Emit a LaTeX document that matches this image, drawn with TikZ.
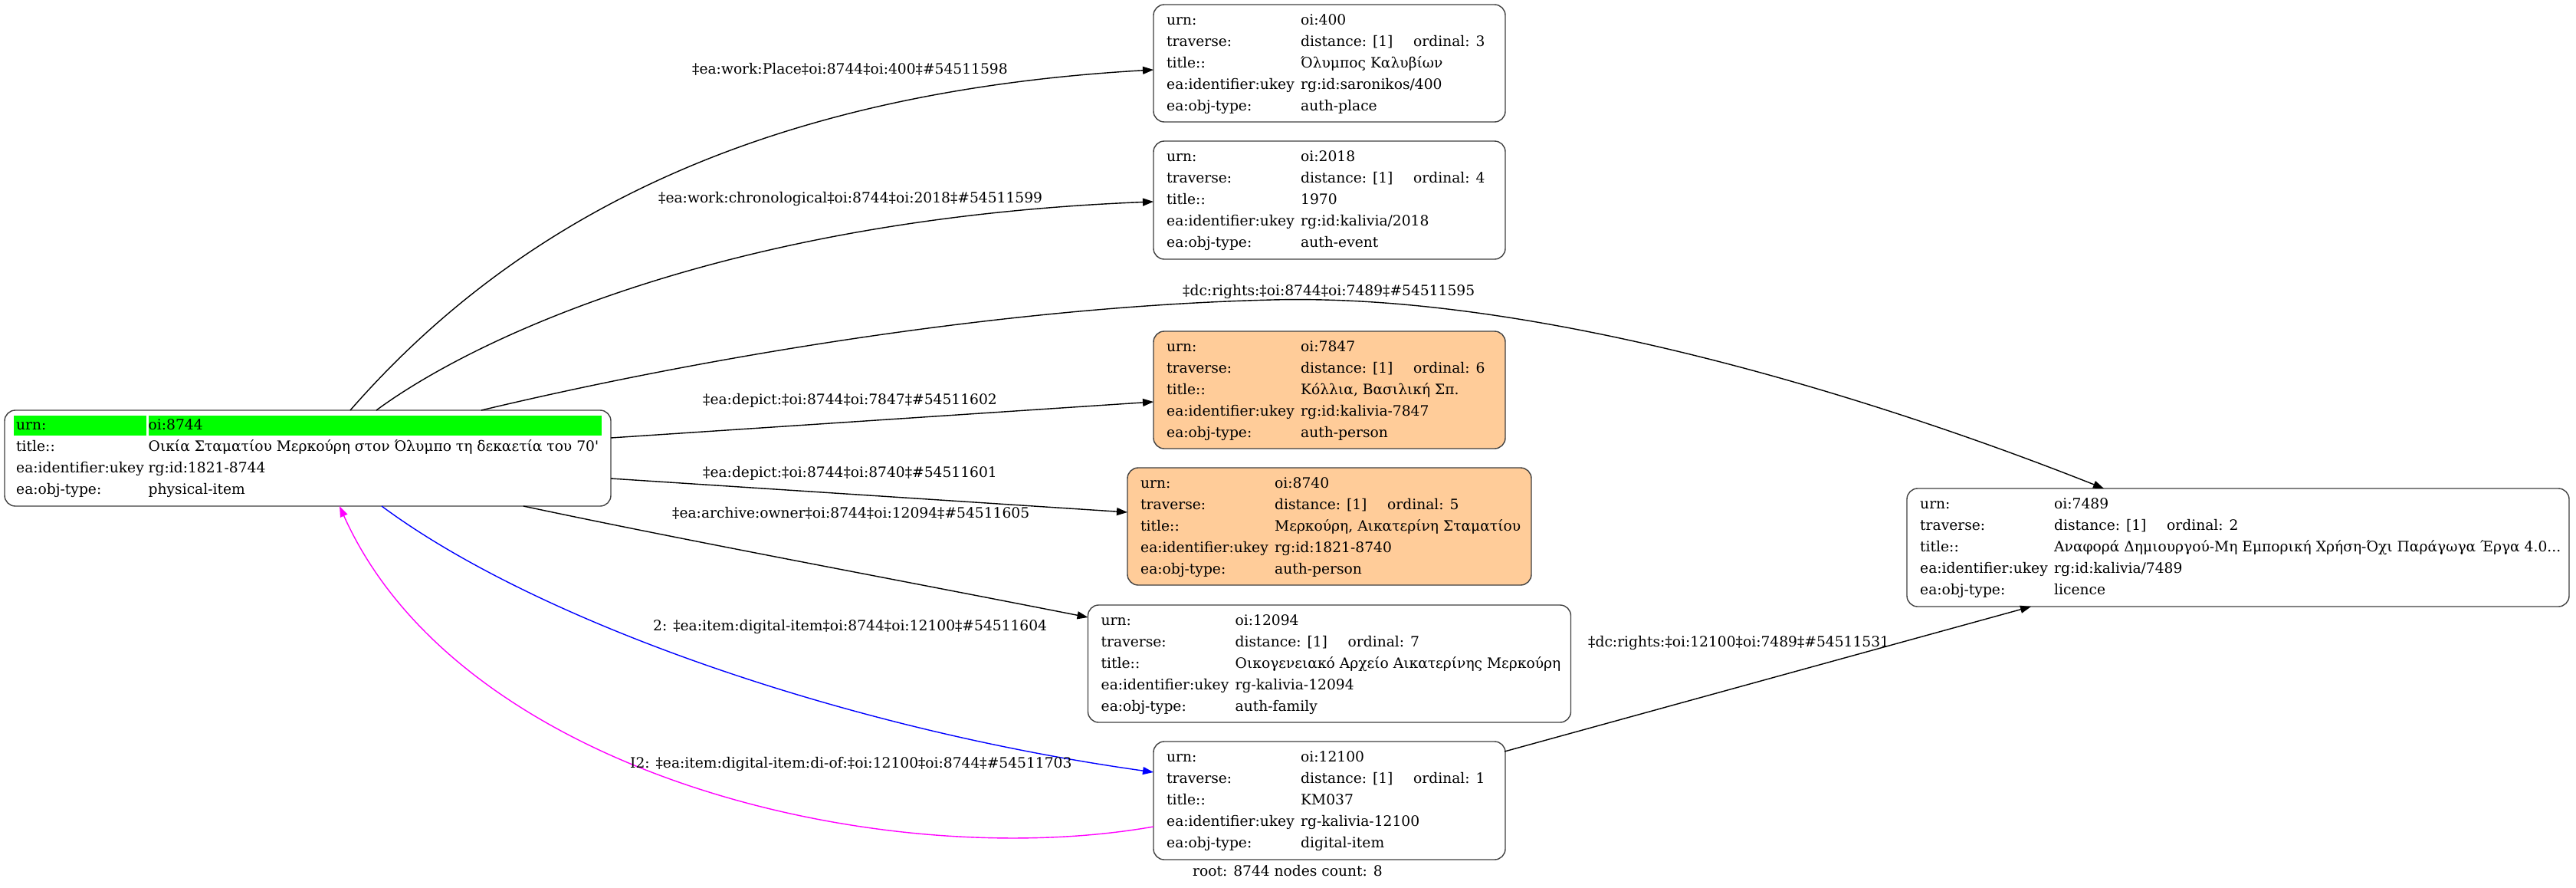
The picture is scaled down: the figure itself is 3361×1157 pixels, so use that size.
\documentclass[tikz,border=0pt]{standalone}
\usepackage{fontspec}
\setmainfont{DejaVu Serif}
\usetikzlibrary{arrows.meta,calc}
\definecolor{peach}{HTML}{FFCC99}
\definecolor{grn}{HTML}{00FF00}
\definecolor{bordergray}{HTML}{404040}
\definecolor{pureblue}{HTML}{0000FF}
\definecolor{puremag}{HTML}{FF00FF}
\newcommand\fs{\fontsize{18.67}{28}\selectfont}
\newcommand\kv[2]{\makebox[175pt][l]{#1}#2}
\newcommand\kvr[2]{\makebox[172.5pt][l]{#1}#2}
\newcommand\trv[1]{\makebox[147pt][l]{distance: [1]}ordinal: #1}
\begin{document}
\begin{tikzpicture}[x=1pt,y=-1pt,
  rec/.style={draw=bordergray, line width=1.4pt, rounded corners=14pt, anchor=north west, inner sep=0pt, outer sep=0pt},
  tab/.style={inner sep=0pt, anchor=north west, font=\fs},
  lbl/.style={inner sep=0pt, anchor=base west, font=\fs},
  edge/.style={line width=1.4pt, -{Triangle[length=14pt,width=10pt]}},
]
\fill[white] (0,0) rectangle (3361,1157);
\useasboundingbox (0,0) rectangle (3361,1157);

% ---------- boxes ----------
\node[rec, minimum width=791pt, minimum height=125pt] (root) at (6,535) {};
\fill[grn] (18,542) rectangle (191,568);
\fill[grn] (193.5,542) rectangle (784.5,568);
\node[tab] (roott) at (21,540.4) {\begin{tabular}{@{}l@{}}
\kvr{urn:}{oi:8744}\\
\kvr{title::}{Οικία Σταματίου Μερκούρη στον Όλυμπο τη δεκαετία του 70\textquotesingle}\\
\kvr{ea:identifier:ukey}{rg:id:1821-8744}\\
\kvr{ea:obj-type:}{physical-item}
\end{tabular}};

\node[rec, minimum width=459pt, minimum height=153pt] (n400) at (1505,6) {};
\node[tab] (n400t) at ($(n400.north west)+(17,6.5)$) {\begin{tabular}{@{}l@{}}
\kv{urn:}{oi:400}\\
\kv{traverse:}{\trv{3}}\\
\kv{title::}{Όλυμπος Καλυβίων}\\
\kv{ea:identifier:ukey}{rg:id:saronikos/400}\\
\kv{ea:obj-type:}{auth-place}
\end{tabular}};

\node[rec, minimum width=459pt, minimum height=154pt] (n2018) at (1505,184) {};
\node[tab] (n2018t) at ($(n2018.north west)+(17,6.5)$) {\begin{tabular}{@{}l@{}}
\kv{urn:}{oi:2018}\\
\kv{traverse:}{\trv{4}}\\
\kv{title::}{1970}\\
\kv{ea:identifier:ukey}{rg:id:kalivia/2018}\\
\kv{ea:obj-type:}{auth-event}
\end{tabular}};

\node[rec, fill=peach, minimum width=459pt, minimum height=153pt] (n7847) at (1505,432) {};
\node[tab] (n7847t) at ($(n7847.north west)+(17,6.5)$) {\begin{tabular}{@{}l@{}}
\kv{urn:}{oi:7847}\\
\kv{traverse:}{\trv{6}}\\
\kv{title::}{Κόλλια, Βασιλική Σπ.}\\
\kv{ea:identifier:ukey}{rg:id:kalivia-7847}\\
\kv{ea:obj-type:}{auth-person}
\end{tabular}};

\node[rec, fill=peach, minimum width=527pt, minimum height=153pt] (n8740) at (1471,610) {};
\node[tab] (n8740t) at ($(n8740.north west)+(17,6.5)$) {\begin{tabular}{@{}l@{}}
\kv{urn:}{oi:8740}\\
\kv{traverse:}{\trv{5}}\\
\kv{title::}{Μερκούρη, Αικατερίνη Σταματίου}\\
\kv{ea:identifier:ukey}{rg:id:1821-8740}\\
\kv{ea:obj-type:}{auth-person}
\end{tabular}};

\node[rec, minimum width=630pt, minimum height=153pt] (n12094) at (1419.5,789) {};
\node[tab] (n12094t) at ($(n12094.north west)+(17,6.5)$) {\begin{tabular}{@{}l@{}}
\kv{urn:}{oi:12094}\\
\kv{traverse:}{\trv{7}}\\
\kv{title::}{Οικογενειακό Αρχείο Αικατερίνης Μερκούρη}\\
\kv{ea:identifier:ukey}{rg-kalivia-12094}\\
\kv{ea:obj-type:}{auth-family}
\end{tabular}};

\node[rec, minimum width=459pt, minimum height=154pt] (n12100) at (1505,967) {};
\node[tab] (n12100t) at ($(n12100.north west)+(17,6.5)$) {\begin{tabular}{@{}l@{}}
\kv{urn:}{oi:12100}\\
\kv{traverse:}{\trv{1}}\\
\kv{title::}{KM037}\\
\kv{ea:identifier:ukey}{rg-kalivia-12100}\\
\kv{ea:obj-type:}{digital-item}
\end{tabular}};

\node[rec, minimum width=864pt, minimum height=154pt] (n7489) at (2488,637) {};
\node[tab] (n7489t) at ($(n7489.north west)+(17,6.5)$) {\begin{tabular}{@{}l@{}}
\kv{urn:}{oi:7489}\\
\kv{traverse:}{\trv{2}}\\
\kv{title::}{Αναφορά Δημιουργού-Μη Εμπορική Χρήση-Όχι Παράγωγα Έργα 4.0...}\\
\kv{ea:identifier:ukey}{rg:id:kalivia/7489}\\
\kv{ea:obj-type:}{licence}
\end{tabular}};

\node[font=\fs, inner sep=0pt, anchor=base] (footer) at (1680,1142) {root: 8744 nodes count: 8};

% ---------- edges ----------
\coordinate (c3) at (1660,391);
\draw[edge] ($(root.north west)+(451,0)$) .. controls (680,280) and (1000,120) .. ($(n400.north west)+(0,85)$);
\draw[edge] ($(root.north west)+(485,0)$) .. controls (620,440) and (950,285) .. ($(n2018.north west)+(0,79)$);
\draw[edge] ($(root.north west)+(622,0)$) .. controls (900,470) and (1300,400) .. (c3) .. controls (2010,382) and (2450,520) .. ($(n7489.north west)+(257,0)$);
\draw[edge] ($(root.north east)+(0,36)$) -- ($(n7847.north west)+(0,92)$);
\draw[edge] ($(root.north east)+(0,89)$) -- ($(n8740.north west)+(0,58)$);
\draw[edge] ($(root.south west)+(677,0)$) .. controls (900,706) and (1150,752) .. ($(n12094.north west)+(0,16)$);
\draw[edge, pureblue] ($(root.south west)+(492,0)$) .. controls (700,810) and (1100,950) .. ($(n12100.north west)+(0,40)$);
\draw[edge, puremag] ($(n12100.north west)+(0,111)$) .. controls (1150,1140) and (600,1010) .. ($(root.south west)+(437,0)$);
\draw[edge] ($(n12100.north east)+(-1,13)$) -- ($(n7489.south west)+(162,0)$);

% ---------- labels ----------
\node[lbl] (l1) at (903,96) {‡ea:work:Place‡oi:8744‡oi:400‡\#54511598};
\node[lbl] (l2) at (859,264) {‡ea:work:chronological‡oi:8744‡oi:2018‡\#54511599};
\node[lbl] (l3) at (1543,385) {‡dc:rights:‡oi:8744‡oi:7489‡\#54511595};
\node[lbl] (l4) at (917,527) {‡ea:depict:‡oi:8744‡oi:7847‡\#54511602};
\node[lbl] (l5) at (917,622) {‡ea:depict:‡oi:8744‡oi:8740‡\#54511601};
\node[lbl] (l6) at (877,675) {‡ea:archive:owner‡oi:8744‡oi:12094‡\#54511605};
\node[lbl] (l7) at (852,822) {2: ‡ea:item:digital-item‡oi:8744‡oi:12100‡\#54511604};
\node[lbl] (l8) at (822,1001) {I2: ‡ea:item:digital-item:di-of:‡oi:12100‡oi:8744‡\#54511703};
\node[lbl] (l9) at (2072,843) {‡dc:rights:‡oi:12100‡oi:7489‡\#54511531};
\end{tikzpicture}
\end{document}
